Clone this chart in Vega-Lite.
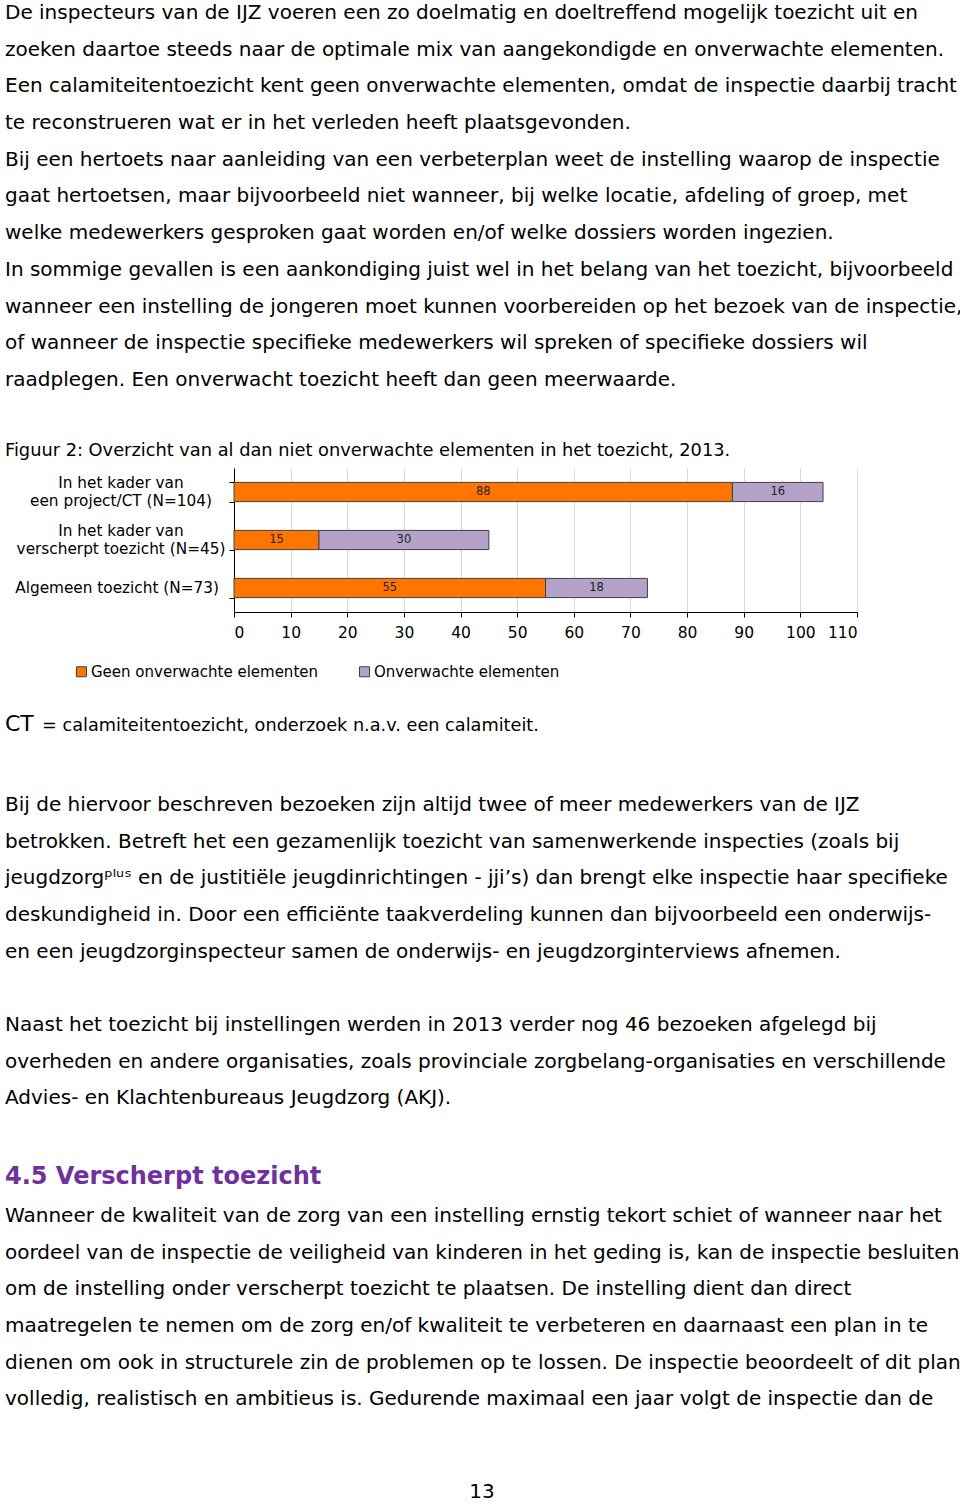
{
  "$schema": "https://vega.github.io/schema/vega-lite/v6.json",
  "background": "white",
  "padding": {"left": 5, "top": 0, "right": 0, "bottom": 0},
  "spacing": 0,
  "bounds": "full",
  "config": {
    "font": "DejaVu Sans",
    "view": {"stroke": null}
  },
  "datasets": {
    "chart": [
      {"cat": "In het kader van|een project/CT (N=104)", "series": "Geen onverwachte elementen", "value": 88},
      {"cat": "In het kader van|een project/CT (N=104)", "series": "Onverwachte elementen", "value": 16},
      {"cat": "In het kader van|verscherpt toezicht (N=45)", "series": "Geen onverwachte elementen", "value": 15},
      {"cat": "In het kader van|verscherpt toezicht (N=45)", "series": "Onverwachte elementen", "value": 30},
      {"cat": "Algemeen toezicht (N=73)", "series": "Geen onverwachte elementen", "value": 55},
      {"cat": "Algemeen toezicht (N=73)", "series": "Onverwachte elementen", "value": 18}
    ],
    "body": [
      {"block": "top", "line": 0, "text": "De inspecteurs van de IJZ voeren een zo doelmatig en doeltreffend mogelijk toezicht uit en"},
      {"block": "top", "line": 1, "text": "zoeken daartoe steeds naar de optimale mix van aangekondigde en onverwachte elementen."},
      {"block": "top", "line": 2, "text": "Een calamiteitentoezicht kent geen onverwachte elementen, omdat de inspectie daarbij tracht"},
      {"block": "top", "line": 3, "text": "te reconstrueren wat er in het verleden heeft plaatsgevonden."},
      {"block": "top", "line": 4, "text": "Bij een hertoets naar aanleiding van een verbeterplan weet de instelling waarop de inspectie"},
      {"block": "top", "line": 5, "text": "gaat hertoetsen, maar bijvoorbeeld niet wanneer, bij welke locatie, afdeling of groep, met"},
      {"block": "top", "line": 6, "text": "welke medewerkers gesproken gaat worden en/of welke dossiers worden ingezien."},
      {"block": "top", "line": 7, "text": "In sommige gevallen is een aankondiging juist wel in het belang van het toezicht, bijvoorbeeld"},
      {"block": "top", "line": 8, "text": "wanneer een instelling de jongeren moet kunnen voorbereiden op het bezoek van de inspectie,"},
      {"block": "top", "line": 9, "text": "of wanneer de inspectie specifieke medewerkers wil spreken of specifieke dossiers wil"},
      {"block": "top", "line": 10, "text": "raadplegen. Een onverwacht toezicht heeft dan geen meerwaarde."},
      {"block": "note", "part": "abbr", "line": 0, "text": "CT"},
      {"block": "note", "part": "def", "line": 0, "text": "= calamiteitentoezicht, onderzoek n.a.v. een calamiteit."},
      {"block": "a", "line": 0, "text": "Bij de hiervoor beschreven bezoeken zijn altijd twee of meer medewerkers van de IJZ"},
      {"block": "a", "line": 1, "text": "betrokken. Betreft het een gezamenlijk toezicht van samenwerkende inspecties (zoals bij"},
      {"block": "a", "line": 2, "text": "jeugdzorgᵖˡᵘˢ en de justitiële jeugdinrichtingen - jji’s) dan brengt elke inspectie haar specifieke"},
      {"block": "a", "line": 3, "text": "deskundigheid in. Door een efficiënte taakverdeling kunnen dan bijvoorbeeld een onderwijs-"},
      {"block": "a", "line": 4, "text": "en een jeugdzorginspecteur samen de onderwijs- en jeugdzorginterviews afnemen."},
      {"block": "b", "line": 0, "text": "Naast het toezicht bij instellingen werden in 2013 verder nog 46 bezoeken afgelegd bij"},
      {"block": "b", "line": 1, "text": "overheden en andere organisaties, zoals provinciale zorgbelang-organisaties en verschillende"},
      {"block": "b", "line": 2, "text": "Advies- en Klachtenbureaus Jeugdzorg (AKJ)."},
      {"block": "heading", "line": 0, "text": "4.5 Verscherpt toezicht"},
      {"block": "c", "line": 0, "text": "Wanneer de kwaliteit van de zorg van een instelling ernstig tekort schiet of wanneer naar het"},
      {"block": "c", "line": 1, "text": "oordeel van de inspectie de veiligheid van kinderen in het geding is, kan de inspectie besluiten"},
      {"block": "c", "line": 2, "text": "om de instelling onder verscherpt toezicht te plaatsen. De instelling dient dan direct"},
      {"block": "c", "line": 3, "text": "maatregelen te nemen om de zorg en/of kwaliteit te verbeteren en daarnaast een plan in te"},
      {"block": "c", "line": 4, "text": "dienen om ook in structurele zin de problemen op te lossen. De inspectie beoordeelt of dit plan"},
      {"block": "c", "line": 5, "text": "volledig, realistisch en ambitieus is. Gedurende maximaal een jaar volgt de inspectie dan de"},
      {"block": "page", "line": 0, "text": "13"}
    ]
  },
  "vconcat": [
    {
      "width": 720, "height": 442,
      "data": {"name": "body"},
      "transform": [{"filter": "datum.block == 'top'"}],
      "mark": {"type": "text", "align": "left", "baseline": "alphabetic", "fontSize": 20, "color": "#000000"},
      "encoding": {
        "x": {"value": -229},
        "y": {"field": "line", "type": "quantitative", "axis": null, "scale": {"domain": [-0.51771, 11.52589], "reverse": true, "nice": false, "zero": false}},
        "text": {"field": "text"}
      }
    },
    {
      "width": 623, "height": 144,
      "title": {"text": "Figuur 2: Overzicht van al dan niet onverwachte elementen in het toezicht, 2013.", "anchor": "start", "frame": "group", "dx": -229, "offset": 8, "fontSize": 17.8, "fontWeight": "normal", "color": "#000000", "font": "DejaVu Sans"},
      "data": {"name": "chart"},
      "transform": [
        {"stack": "value", "groupby": ["cat"], "sort": [{"field": "series", "order": "ascending"}], "as": ["v0", "v1"]},
        {"calculate": "(datum.v0 + datum.v1) / 2", "as": "mid"}
      ],
      "encoding": {
        "y": {
          "field": "cat", "type": "nominal", "sort": null,
          "scale": {"paddingInner": 0.6, "paddingOuter": 0.3},
          "axis": {
            "title": null, "labels": false, "domainColor": "#000000", "tickColor": "#000000", "tickSize": 5, "tickBand": "extent"
          }
        }
      },
      "layer": [
        {
          "mark": {"type": "bar", "stroke": "#404040", "strokeWidth": 1},
          "encoding": {
            "x": {
              "field": "v0", "type": "quantitative",
              "scale": {"domain": [0, 110], "nice": false},
              "axis": {
                "title": null, "values": [0, 10, 20, 30, 40, 50, 60, 70, 80, 90, 100, 110],
                "grid": true, "gridColor": "#d9d9d9", "domainColor": "#000000", "tickColor": "#000000",
                "tickSize": 5, "labelFontSize": 15.5, "labelColor": "#000000", "labelPadding": 8
              }
            },
            "x2": {"field": "v1"},
            "color": {
              "field": "series", "type": "nominal",
              "scale": {"domain": ["Geen onverwachte elementen", "Onverwachte elementen"], "range": ["#ff7500", "#b3a2c7"]},
              "legend": {
                "orient": "none", "legendX": -160, "legendY": 664, "direction": "horizontal", "title": null,
                "symbolType": "square", "symbolSize": 100, "symbolStrokeColor": "#404040", "symbolStrokeWidth": 1,
                "labelFontSize": 15, "labelColor": "#000000", "labelOffset": 2, "columnPadding": 39, "padding": 0, "labelLimit": 400
              }
            }
          }
        },
        {
          "mark": {"type": "text", "fontSize": 11.5, "color": "#222222", "align": "center", "baseline": "middle"},
          "encoding": {
            "x": {"field": "mid", "type": "quantitative"},
            "text": {"field": "value", "type": "quantitative"}
          }
        },
        {
          "transform": [{"filter": "datum.series == 'Geen onverwachte elementen' && indexof(datum.cat, '|') >= 0"}],
          "mark": {"type": "text", "fontSize": 15.3, "color": "#000000", "align": "center", "baseline": "middle", "dx": -113, "dy": -9.25, "lineBreak": "|", "lineHeight": 18.5},
          "encoding": {
            "x": {"datum": 0, "type": "quantitative"},
            "text": {"field": "cat"}
          }
        },
        {
          "transform": [{"filter": "datum.series == 'Geen onverwachte elementen' && indexof(datum.cat, '|') < 0"}],
          "mark": {"type": "text", "fontSize": 15.3, "color": "#000000", "align": "right", "baseline": "middle", "dx": -15},
          "encoding": {
            "x": {"datum": 0, "type": "quantitative"},
            "text": {"field": "cat"}
          }
        }
      ]
    },
    {
      "width": 720, "height": 129,
      "data": {"name": "body"},
      "transform": [{"filter": "datum.block == 'note'"}],
      "encoding": {
        "x": {"value": -229},
        "y": {"field": "line", "type": "quantitative", "axis": null, "scale": {"domain": [-2.45232, 1.06267], "reverse": true, "nice": false, "zero": false}},
        "text": {"field": "text"}
      },
      "layer": [
        {"transform": [{"filter": "datum.part == 'abbr'"}], "mark": {"type": "text", "align": "left", "baseline": "alphabetic", "fontSize": 22, "color": "#000000"}},
        {"transform": [{"filter": "datum.part == 'def'"}], "mark": {"type": "text", "align": "left", "baseline": "alphabetic", "fontSize": 17.7, "dx": 37, "color": "#000000"}}
      ]
    },
    {
      "width": 720, "height": 220,
      "data": {"name": "body"},
      "transform": [{"filter": "datum.block == 'a'"}],
      "mark": {"type": "text", "align": "left", "baseline": "alphabetic", "fontSize": 20, "color": "#000000"},
      "encoding": {
        "x": {"value": -229},
        "y": {"field": "line", "type": "quantitative", "axis": null, "scale": {"domain": [-1.11717, 4.87738], "reverse": true, "nice": false, "zero": false}},
        "text": {"field": "text"}
      }
    },
    {
      "width": 720, "height": 150,
      "data": {"name": "body"},
      "transform": [{"filter": "datum.block == 'b'"}],
      "mark": {"type": "text", "align": "left", "baseline": "alphabetic", "fontSize": 20, "color": "#000000"},
      "encoding": {
        "x": {"value": -229},
        "y": {"field": "line", "type": "quantitative", "axis": null, "scale": {"domain": [-1.11717, 2.97002], "reverse": true, "nice": false, "zero": false}},
        "text": {"field": "text"}
      }
    },
    {
      "width": 720, "height": 55,
      "data": {"name": "body"},
      "transform": [{"filter": "datum.block == 'heading'"}],
      "mark": {"type": "text", "align": "left", "baseline": "alphabetic", "fontSize": 24, "fontWeight": "bold", "color": "#7030a0"},
      "encoding": {
        "x": {"value": -229},
        "y": {"field": "line", "type": "quantitative", "axis": null, "scale": {"domain": [-1.19891, 0.29973], "reverse": true, "nice": false, "zero": false}},
        "text": {"field": "text"}
      }
    },
    {
      "width": 720, "height": 245,
      "data": {"name": "body"},
      "transform": [{"filter": "datum.block == 'c'"}],
      "mark": {"type": "text", "align": "left", "baseline": "alphabetic", "fontSize": 20, "color": "#000000"},
      "encoding": {
        "x": {"value": -229},
        "y": {"field": "line", "type": "quantitative", "axis": null, "scale": {"domain": [-0.73569, 5.94006], "reverse": true, "nice": false, "zero": false}},
        "text": {"field": "text"}
      }
    },
    {
      "width": 720, "height": 71,
      "data": {"name": "body"},
      "transform": [{"filter": "datum.block == 'page'"}],
      "mark": {"type": "text", "align": "center", "baseline": "alphabetic", "fontSize": 20, "color": "#000000"},
      "encoding": {
        "x": {"value": 248},
        "y": {"field": "line", "type": "quantitative", "axis": null, "scale": {"domain": [-1.58038, 0.35422], "reverse": true, "nice": false, "zero": false}},
        "text": {"field": "text"}
      }
    }
  ]
}
